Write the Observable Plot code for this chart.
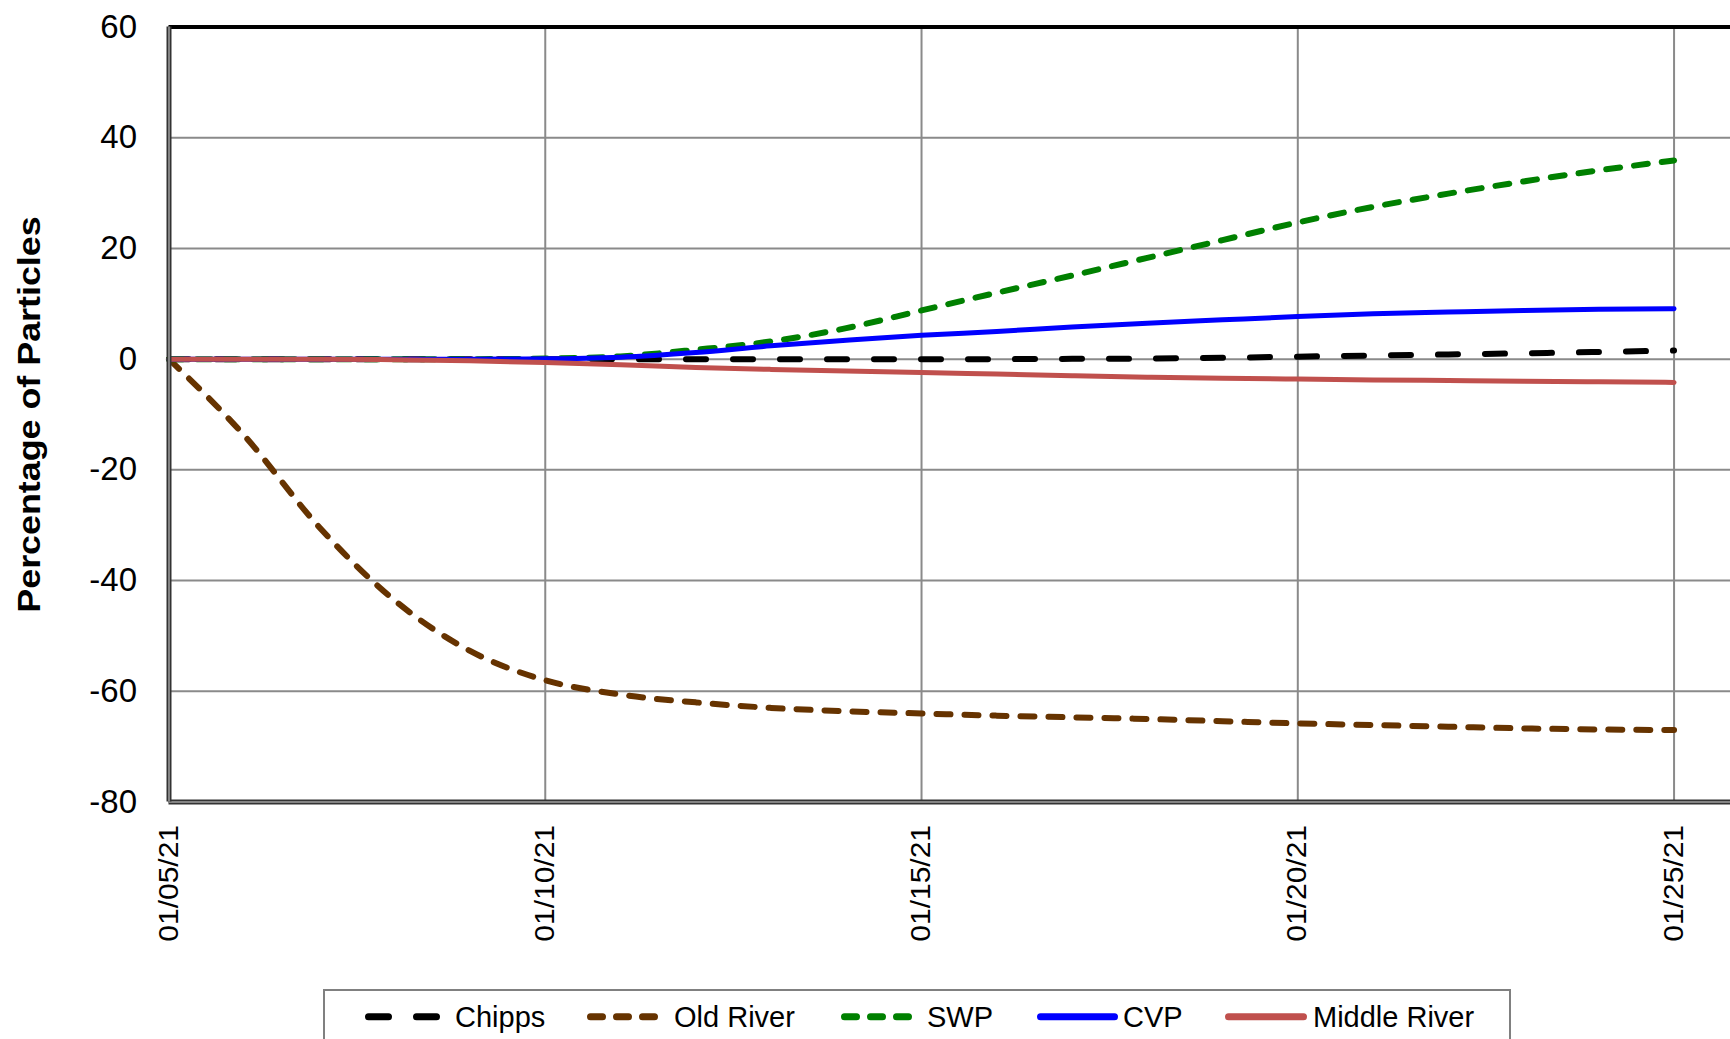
<!DOCTYPE html>
<html>
<head>
<meta charset="utf-8">
<script src="https://cdn.jsdelivr.net/npm/d3@7"></script>
<script src="https://cdn.jsdelivr.net/npm/@observablehq/plot@0.6"></script>
<style>
  html, body { margin: 0; padding: 0; background: #ffffff; }
  #wrap { position: relative; width: 1730px; height: 1039px; overflow: hidden; background: #fff;
          font-family: "Liberation Sans", Arial, sans-serif; }
  #chart { position: absolute; left: 0; top: 0; }
  #legend { position: absolute; left: 323px; top: 989px; }
</style>
</head>
<body>
<div id="wrap"><div id="chart"></div><div id="legend"></div></div>
<script>
// ---- data ----
const dates = ["2021-01-05","2021-01-06","2021-01-07","2021-01-08","2021-01-09","2021-01-10",
  "2021-01-11","2021-01-12","2021-01-13","2021-01-14","2021-01-15","2021-01-16","2021-01-17",
  "2021-01-18","2021-01-19","2021-01-20","2021-01-21","2021-01-22","2021-01-23","2021-01-24","2021-01-25"];
const chipps      = [0, 0, 0, 0, 0, 0, 0, 0, 0, 0, 0, 0, 0.05, 0.1, 0.25, 0.45, 0.65, 0.85, 1.05, 1.3, 1.55];
const oldRiver    = [0, -13.8, -30.4, -43.6, -52.7, -58.0, -60.6, -62.0, -63.0, -63.6, -64.0, -64.4, -64.7, -65.0, -65.4, -65.8, -66.1, -66.4, -66.7, -66.9, -67.0];
const swp         = [0, 0, 0, 0, 0, 0.1, 0.5, 1.7, 3.2, 5.6, 8.8, 12.0, 15.1, 18.3, 21.5, 24.7, 27.5, 29.9, 32.1, 34.1, 35.9];
const cvp         = [0, 0, 0, 0, 0, 0.05, 0.35, 1.2, 2.4, 3.4, 4.3, 5.0, 5.8, 6.5, 7.1, 7.7, 8.2, 8.5, 8.8, 9.0, 9.1];
const middleRiver = [0, 0, 0, -0.1, -0.3, -0.6, -1.0, -1.5, -1.85, -2.15, -2.4, -2.7, -3.0, -3.25, -3.45, -3.6, -3.75, -3.85, -4.0, -4.1, -4.2];
const seriesNames = ["Chipps", "Old River", "SWP", "CVP", "Middle River"];
const xTickDates = ["2021-01-05", "2021-01-10", "2021-01-15", "2021-01-20", "2021-01-25"];
const yTicks = [-80, -60, -40, -20, 0, 20, 40, 60];
const yTitle = "Percentage of Particles";

// ---- build ----
const parse = d3.utcParse("%Y-%m-%d");
const seriesValues = [chipps, oldRiver, swp, cvp, middleRiver];
const rows = seriesNames.flatMap((name, s) =>
  dates.map((d, i) => ({series: name, date: parse(d), value: seriesValues[s][i]})));
const xTicks = xTickDates.map(parse);
const xStart = parse(dates[0]);
const xEnd = d3.utcHour.offset(parse(dates[dates.length - 1]), 18);

const styles = {
  "Chipps":       {stroke: "#000000", strokeWidth: 6, strokeDasharray: "20,27"},
  "Old River":    {stroke: "#663300", strokeWidth: 6, strokeDasharray: "14,14"},
  "SWP":          {stroke: "#008000", strokeWidth: 6, strokeDasharray: "14,14"},
  "CVP":          {stroke: "#0000FF", strokeWidth: 5},
  "Middle River": {stroke: "#C0504D", strokeWidth: 5}
};

const lineMarks = seriesNames.map(name =>
  Plot.line(rows.filter(r => r.series === name), {
    x: "date", y: "value", curve: "monotone-x",
    strokeLinecap: "round", strokeLinejoin: "round", ...styles[name]
  }));

const chart = Plot.plot({
  width: 1730, height: 989,
  marginLeft: 168.5, marginRight: 0, marginTop: 26.5, marginBottom: 187.5,
  style: {fontFamily: "'Liberation Sans', Arial, sans-serif", background: "#ffffff", color: "#000", overflow: "visible"},
  x: {type: "utc", domain: [xStart, xEnd]},
  y: {domain: [yTicks[0], yTicks[yTicks.length - 1]]},
  marks: [
    Plot.gridX({ticks: xTicks, stroke: "#8a8a8a", strokeOpacity: 1, strokeWidth: 2}),
    Plot.gridY({ticks: yTicks, stroke: "#8a8a8a", strokeOpacity: 1, strokeWidth: 2}),
    ...lineMarks,
    Plot.ruleY([yTicks[yTicks.length - 1]], {stroke: "#000", strokeWidth: 4}),
    Plot.ruleY([yTicks[0]], {stroke: "#333", strokeWidth: 5}),
    Plot.ruleY([yTicks[0]], {stroke: "#a0a0a0", strokeWidth: 1.5}),
    Plot.ruleX([xStart], {stroke: "#333", strokeWidth: 5}),
    Plot.ruleX([xStart], {stroke: "#a0a0a0", strokeWidth: 1.5}),
    Plot.axisY({ticks: yTicks, tickSize: 0, tickPadding: 32, fontSize: 33, tickFormat: d => String(d), label: null}),
    Plot.axisX({ticks: xTicks, tickSize: 0, tickPadding: 23, tickRotate: -90, fontSize: 27,
                tickFormat: d3.utcFormat("%m/%d/%y"), label: null}),
    Plot.text([yTitle], {frameAnchor: "left", dx: -139.5, rotate: -90, fontSize: 32, fontWeight: "bold",
                         textAnchor: "middle", lineAnchor: "middle", fill: "#000"})
  ]
});
document.getElementById("chart").appendChild(chart);

// stretch rotated texts along their length to match the reference proportions
function stretch(nodes, k) {
  nodes.forEach(t => {
    const tr = t.getAttribute("transform");
    if (tr) t.setAttribute("transform", tr + ` scale(${k},1)`);
  });
}
stretch(chart.querySelectorAll('g[aria-label="x-axis tick label"] text'), 1.11);
stretch(Array.from(chart.querySelectorAll("text")).filter(t => t.textContent === yTitle), 1.12);

// ---- legend ----
const legendLayout = {
  "Chipps":       {x1: 45.5,  x2: 114,   tx: 132, width: 7, dash: "20,28"},
  "Old River":    {x1: 267.5, x2: 332,   tx: 351, width: 7, dash: "12,14"},
  "SWP":          {x1: 521.5, x2: 586,   tx: 604, width: 7, dash: "12,14"},
  "CVP":          {x1: 717.5, x2: 791.5, tx: 800, width: 7, dash: null},
  "Middle River": {x1: 905.5, x2: 980.5, tx: 990, width: 7, dash: null}
};
const lg = d3.select("#legend").append("svg").attr("width", 1188).attr("height", 60)
  .style("font-family", "'Liberation Sans', Arial, sans-serif");
lg.append("rect").attr("x", 1).attr("y", 1).attr("width", 1186).attr("height", 100)
  .attr("fill", "#fff").attr("stroke", "#808080").attr("stroke-width", 2);
seriesNames.forEach(name => {
  const L = legendLayout[name];
  const ln = lg.append("line").attr("x1", L.x1).attr("x2", L.x2).attr("y1", 27.7).attr("y2", 27.7)
    .attr("stroke", styles[name].stroke).attr("stroke-width", L.width).attr("stroke-linecap", "round");
  if (L.dash) ln.attr("stroke-dasharray", L.dash);
  lg.append("text").attr("x", L.tx).attr("y", 37.7).attr("font-size", 29).attr("fill", "#000").text(name);
});
</script>
</body>
</html>
